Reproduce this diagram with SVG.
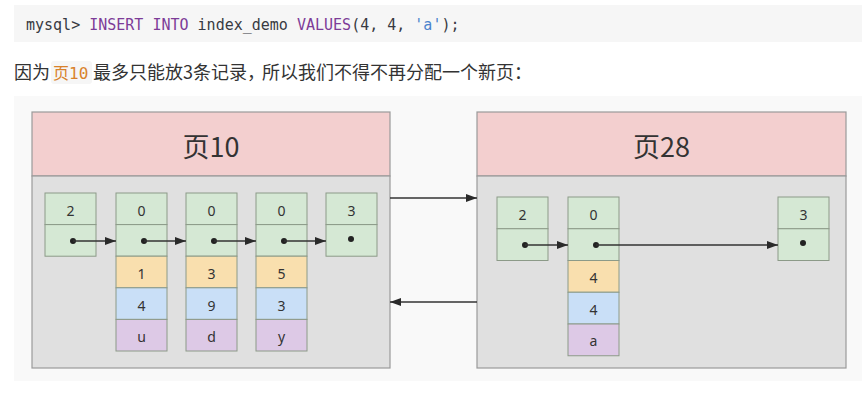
<svg xmlns="http://www.w3.org/2000/svg" width="862" height="403" viewBox="0 0 862 403">
<style>
.code{font-family:"DejaVu Sans Mono","Liberation Mono",monospace;font-size:15px;fill:#383a42}
.kw{fill:#7d3c98}
.str{fill:#4b83cd}
.para{font-family:"Noto Sans CJK SC","Noto Sans",sans-serif;font-size:18px;fill:#333}
.ic{font-family:"DejaVu Sans Mono","Noto Sans CJK SC",monospace;font-size:16px;fill:#d9822b}
.page{stroke:#9a9a9a;stroke-width:1.2}
.hdr{fill:#f3cfcf}
.body{fill:#e0e0e0}
.title{font-family:"Noto Sans CJK SC","Noto Sans",sans-serif;font-size:27px;fill:#333;text-anchor:middle}
.c{stroke:#8c9a88;stroke-width:1}
.g{fill:#d5e8d4}
.o{fill:#f9dfae}
.b{fill:#c9dff7}
.p{fill:#ddc9e6}
.t{font-family:"Noto Sans","Open Sans",sans-serif;font-size:14px;fill:#333;text-anchor:middle}
.ln{stroke:#333;stroke-width:1.5;fill:none}
.dot{fill:#222}
</style>
<defs>
<marker id="ah" viewBox="0 0 11 8" refX="11" refY="4" markerWidth="11" markerHeight="8" markerUnits="userSpaceOnUse" orient="auto">
<path d="M0,0 L11,4 L0,8 Z" fill="#2a2a2a"/>
</marker>
</defs>
<rect x="0" y="0" width="862" height="403" fill="#ffffff"/>
<rect x="14" y="5" width="848" height="37" fill="#f6f6f6"/>
<text x="26" y="30" class="code">mysql&gt; <tspan class="kw">INSERT INTO</tspan> index_demo <tspan class="kw">VALUES</tspan>(4, 4, <tspan class="str">'a'</tspan>);</text>
<text x="14" y="79" class="para">因为</text>
<rect x="51" y="61" width="41" height="23" rx="3" fill="#f6f6f6"/>
<text x="53" y="79" class="ic">页10</text>
<text x="93" y="79" class="para">最多只能放3条记录，<tspan dx="-3">所以我们不得不再分配一个新页：</tspan></text>
<rect x="14" y="96" width="848" height="285" fill="#f9f9f9"/>

<g id="page10">
<rect x="32" y="112" width="358" height="64" class="hdr page"/>
<rect x="32" y="176" width="358" height="192" class="body page"/>
<text x="211" y="157" class="title">页10</text>
</g>
<g id="page28">
<rect x="477" y="112" width="369" height="64" class="hdr page"/>
<rect x="477" y="176" width="369" height="192" class="body page"/>
<text x="661.5" y="157" class="title">页28</text>
</g>

<g id="p10-infimum">
<rect x="45" y="193" width="51" height="31.6" class="c g"/>
<rect x="45" y="224.6" width="51" height="31.6" class="c g"/>
<text x="70.5" y="216" class="t">2</text>
</g>
<g id="p10-rec1">
<rect x="116" y="193" width="51" height="31.6" class="c g"/>
<rect x="116" y="224.6" width="51" height="31.6" class="c g"/>
<rect x="116" y="256.2" width="51" height="31.6" class="c o"/>
<rect x="116" y="287.8" width="51" height="31.6" class="c b"/>
<rect x="116" y="319.4" width="51" height="31.6" class="c p"/>
<text x="141.5" y="216" class="t">0</text>
<text x="141.5" y="279" class="t">1</text>
<text x="141.5" y="311" class="t">4</text>
<text x="141.5" y="342" class="t">u</text>
</g>
<g id="p10-rec2">
<rect x="186" y="193" width="51" height="31.6" class="c g"/>
<rect x="186" y="224.6" width="51" height="31.6" class="c g"/>
<rect x="186" y="256.2" width="51" height="31.6" class="c o"/>
<rect x="186" y="287.8" width="51" height="31.6" class="c b"/>
<rect x="186" y="319.4" width="51" height="31.6" class="c p"/>
<text x="211.5" y="216" class="t">0</text>
<text x="211.5" y="279" class="t">3</text>
<text x="211.5" y="311" class="t">9</text>
<text x="211.5" y="342" class="t">d</text>
</g>
<g id="p10-rec3">
<rect x="256" y="193" width="51" height="31.6" class="c g"/>
<rect x="256" y="224.6" width="51" height="31.6" class="c g"/>
<rect x="256" y="256.2" width="51" height="31.6" class="c o"/>
<rect x="256" y="287.8" width="51" height="31.6" class="c b"/>
<rect x="256" y="319.4" width="51" height="31.6" class="c p"/>
<text x="281.5" y="216" class="t">0</text>
<text x="281.5" y="279" class="t">5</text>
<text x="281.5" y="311" class="t">3</text>
<text x="281.5" y="342" class="t">y</text>
</g>
<g id="p10-supremum">
<rect x="326" y="193" width="51" height="31.6" class="c g"/>
<rect x="326" y="224.6" width="51" height="31.6" class="c g"/>
<text x="351.5" y="216" class="t">3</text>
<circle cx="351" cy="239" r="3" class="dot"/>
</g>

<g id="p28-infimum">
<rect x="497" y="197" width="51" height="31.75" class="c g"/>
<rect x="497" y="228.75" width="51" height="31.75" class="c g"/>
<text x="522.5" y="220" class="t">2</text>
</g>
<g id="p28-rec1">
<rect x="568" y="197" width="51" height="31.75" class="c g"/>
<rect x="568" y="228.75" width="51" height="31.75" class="c g"/>
<rect x="568" y="260.5" width="51" height="31.75" class="c o"/>
<rect x="568" y="292.25" width="51" height="31.75" class="c b"/>
<rect x="568" y="324" width="51" height="31.75" class="c p"/>
<text x="593.5" y="220" class="t">0</text>
<text x="593.5" y="283" class="t">4</text>
<text x="593.5" y="315" class="t">4</text>
<text x="593.5" y="346" class="t">a</text>
</g>
<g id="p28-supremum">
<rect x="778" y="197" width="51" height="31.75" class="c g"/>
<rect x="778" y="228.75" width="51" height="31.75" class="c g"/>
<text x="803.5" y="220" class="t">3</text>
<circle cx="803" cy="243" r="3" class="dot"/>
</g>

<g id="connectors">
<circle cx="73" cy="241" r="3" class="dot"/>
<line x1="73" y1="241" x2="116" y2="241" class="ln" marker-end="url(#ah)"/>
<circle cx="144" cy="241" r="3" class="dot"/>
<line x1="144" y1="241" x2="186" y2="241" class="ln" marker-end="url(#ah)"/>
<circle cx="214" cy="241" r="3" class="dot"/>
<line x1="214" y1="241" x2="256" y2="241" class="ln" marker-end="url(#ah)"/>
<circle cx="284" cy="241" r="3" class="dot"/>
<line x1="284" y1="241" x2="326" y2="241" class="ln" marker-end="url(#ah)"/>
<line x1="390" y1="198" x2="477" y2="198" class="ln" marker-end="url(#ah)"/>
<line x1="477" y1="302" x2="390" y2="302" class="ln" marker-end="url(#ah)"/>
<circle cx="525" cy="245" r="3" class="dot"/>
<line x1="525" y1="245" x2="568" y2="245" class="ln" marker-end="url(#ah)"/>
<circle cx="596" cy="245" r="3" class="dot"/>
<line x1="596" y1="245" x2="778" y2="245" class="ln" marker-end="url(#ah)"/>
</g>
</svg>
